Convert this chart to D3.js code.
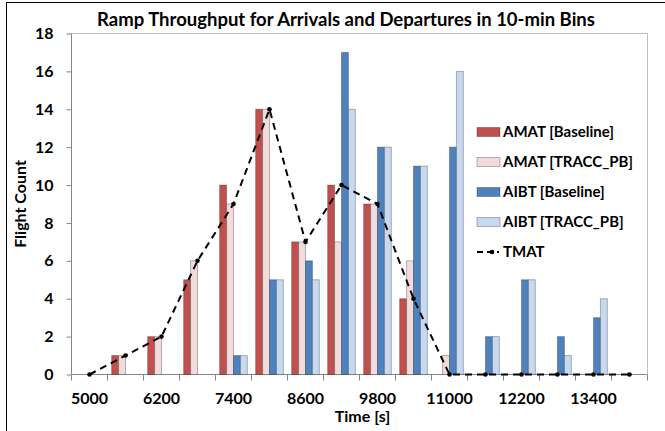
<html>
  <head>
    <script src="https://cdnjs.cloudflare.com/ajax/libs/d3/7.8.5/d3.min.js"></script>
  </head>
  <body style="margin:0;background:#fff;">
    <style>
      text {font-family:Lato, "Open Sans", sans-serif; font-weight:bold; fill:#000;}
      .tick text {font-size:16px;}
      .legend text {font-size:15px;}
    </style>
    <div id="scene"></div>
    <script>

// D A T A

      const categories = [5000, 5600, 6200, 6800, 7400, 8000, 8600, 9200,
                          9800, 10400, 11000, 11600, 12200, 12800, 13400, 14000]
      const tickLabels = [5000, 6200, 7400, 8600, 9800, 11000, 12200, 13400]
      const yTicks = [0, 2, 4, 6, 8, 10, 12, 14, 16, 18]

      const amatBaseline = [0, 1, 2, 5, 10, 14, 7, 10, 9, 4, 0, 0, 0, 0, 0, 0]
      const amatTracc    = [0, 1, 2, 6, 9, 14, 7, 7, 9, 6, 1, 0, 0, 0, 0, 0]
      const aibtBaseline = [0, 0, 0, 0, 1, 5, 6, 17, 12, 11, 12, 2, 5, 2, 3, 0]
      const aibtTracc    = [0, 0, 0, 0, 1, 5, 5, 14, 12, 11, 16, 2, 5, 1, 4, 0]
      const tmat         = [0, 1, 2, 6, 9, 14, 7, 10, 9, 4, 0, 0, 0, 0, 0, 0]

      const series = [
        {name: "AMAT [Baseline]", values: amatBaseline, color: "#C0504D"},
        {name: "AMAT [TRACC_PB]", values: amatTracc, color: "#F2DCDB"},
        {name: "AIBT [Baseline]", values: aibtBaseline, color: "#4F81BD"},
        {name: "AIBT [TRACC_PB]", values: aibtTracc, color: "#C6D9F1"}
      ]


// S E T U P

      const W = 665, H = 431
      const margin = {top: 33.5, right: 17.5, bottom: 56.5, left: 71.5}
      const width = W - margin.left - margin.right
      const height = H - margin.top - margin.bottom

      const root = d3.select("#scene")
        .append("svg")
          .attr("width", W)
          .attr("height", H)

      // outer chart frame, runs off the right and bottom edges
      root.append("rect")
        .attr("x", 6.5).attr("y", 2.5)
        .attr("width", W + 20).attr("height", H + 20)
        .attr("fill", "none")
        .attr("stroke", "#000")
        .attr("stroke-width", 1)

      const svg = root.append("g")
        .attr("transform", `translate(${margin.left},${margin.top})`)

      const x0 = d3.scaleBand()
        .domain(categories)
        .range([0, width])

      const x1 = d3.scaleBand()
        .domain(series.map(s => s.name))
        .range([0, x0.bandwidth()])
        .paddingOuter(0.6)

      const y = d3.scaleLinear()
        .domain([0, 18])
        .range([height, 0])


// A X I S

      // plot area frame (top and right)
      svg.append("path")
        .attr("d", `M0,0H${width}V${height}`)
        .attr("fill", "none")
        .attr("stroke", "#BFBFBF")

      const yAxis = svg.append("g")
        .call(d3.axisLeft(y).tickValues(yTicks).tickSize(5).tickPadding(13))
      yAxis.selectAll("line, path").attr("stroke", "#868686")
      yAxis.select(".domain").attr("d", `M0,${height}V0`)

      // category boundary ticks, Excel style
      const xAxis = svg.append("g")
        .attr("transform", `translate(0,${height})`)
      xAxis.append("line")
        .attr("x1", 0).attr("x2", width)
        .attr("stroke", "#868686")
      xAxis.selectAll(".bound")
        .data(categories.concat([null]))
        .enter()
          .append("line")
          .attr("x1", (d, i) => i * x0.step())
          .attr("x2", (d, i) => i * x0.step())
          .attr("y2", 6)
          .attr("stroke", "#868686")
      xAxis.selectAll(".tick")
        .data(tickLabels)
        .enter()
          .append("text")
          .attr("class", "tick")
          .attr("x", d => x0(d) + x0.bandwidth() / 2)
          .attr("y", 29)
          .attr("text-anchor", "middle")
          .style("font-size", "16px")
          .text(d => d)

      svg.append("text")
        .attr("x", width / 2 + 3)
        .attr("y", height + 47)
        .attr("text-anchor", "middle")
        .style("font-size", "16px")
        .text("Time [s]")

      svg.append("text")
        .attr("transform", `translate(${-46},${height / 2}) rotate(-90)`)
        .attr("text-anchor", "middle")
        .style("font-size", "16px")
        .text("Flight Count")

      root.append("text")
        .attr("x", 346)
        .attr("y", 26)
        .attr("text-anchor", "middle")
        .style("font-size", "18.5px")
        .text("Ramp Throughput for Arrivals and Departures in 10-min Bins")


// B A R S

      const groups = svg.append("g")
        .selectAll("g")
        .data(series)
        .enter()
          .append("g")
          .attr("fill", s => s.color)

      groups.selectAll("rect")
        .data(s => s.values.map((v, i) => ({name: s.name, cat: categories[i], v})))
        .enter()
          .filter(d => d.v > 0)
          .append("rect")
          .attr("x", d => x0(d.cat) + x1(d.name))
          .attr("y", d => y(d.v))
          .attr("width", x1.bandwidth())
          .attr("height", d => y(0) - y(d.v))
          .attr("stroke", "#000")
          .attr("stroke-opacity", 0.28)
          .attr("stroke-width", 1)


// L I N E

      const cx = (d, i) => x0(categories[i]) + x0.bandwidth() / 2
      const line = d3.line().x(cx).y(d => y(d))

      svg.append("path")
        .datum(tmat)
        .attr("d", line)
        .attr("fill", "none")
        .attr("stroke", "#000")
        .attr("stroke-width", 2)
        .attr("stroke-dasharray", "7,5")

      svg.append("g")
        .selectAll("circle")
        .data(tmat)
        .enter()
          .append("circle")
          .attr("cx", cx)
          .attr("cy", d => y(d))
          .attr("r", 2.3)
          .attr("fill", "#000")


// L E G E N D

      const legend = root.append("g")
        .attr("class", "legend")
        .attr("transform", "translate(477,132)")

      const items = legend.selectAll("g")
        .data(series.concat([{name: "TMAT"}]))
        .enter()
          .append("g")
          .attr("transform", (d, i) => `translate(0,${i * 30})`)

      items.filter(d => d.color)
        .append("rect")
          .attr("x", 0).attr("y", -4.5)
          .attr("width", 23).attr("height", 9)
          .attr("fill", d => d.color)
          .attr("stroke", "#000")
          .attr("stroke-opacity", 0.28)

      items.filter(d => !d.color)
        .append("line")
          .attr("x1", 0).attr("x2", 22)
          .attr("stroke", "#000")
          .attr("stroke-width", 2)
          .attr("stroke-dasharray", "6,4")
      items.filter(d => !d.color)
        .append("circle")
          .attr("cx", 15).attr("r", 2.3)
          .attr("fill", "#000")

      items.append("text")
        .attr("x", 26)
        .attr("dy", "0.36em")
        .text(d => d.name)

    </script>
  </body>
</html>
